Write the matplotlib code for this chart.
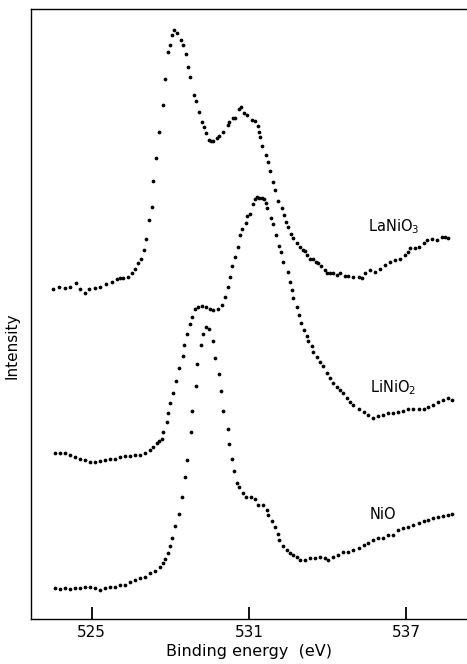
import matplotlib
matplotlib.use("Agg")
import matplotlib.pyplot as plt
import numpy as np

# O 1s spectra, binding energy (eV) vs intensity (arb. units, offset curves)
lanio3_e = [523.53, 523.73, 523.98, 524.17, 524.40, 524.55, 524.74, 524.90, 525.13, 525.32,
            525.55, 525.76, 525.95, 526.08, 526.21, 526.40, 526.53, 526.65, 526.78, 526.88,
            527.00, 527.07, 527.20, 527.29, 527.34, 527.45, 527.57, 527.71, 527.80, 527.90,
            527.98, 528.08, 528.15, 528.24, 528.40, 528.47, 528.59, 528.69, 528.76, 528.89,
            528.97, 529.08, 529.21, 529.29, 529.37, 529.47, 529.54, 529.64, 529.79, 529.87,
            530.02, 530.18, 530.24, 530.40, 530.48, 530.63, 530.70, 530.79, 530.92, 531.11,
            531.23, 531.34, 531.39, 531.42, 531.49, 531.64, 531.72, 531.81, 531.91, 532.01,
            532.12, 532.25, 532.34, 532.42, 532.50, 532.60, 532.69, 532.82, 532.95, 533.05,
            533.14, 533.23, 533.33, 533.46, 533.56, 533.65, 533.74, 533.90, 533.97, 534.10,
            534.22, 534.35, 534.48, 534.67, 534.79, 534.98, 535.18, 535.31, 535.43, 535.62,
            535.81, 536.00, 536.19, 536.39, 536.58, 536.77, 536.96, 537.05, 537.15, 537.34,
            537.47, 537.66, 537.79, 537.98, 538.17, 538.36, 538.48, 538.61]
lanio3_i = [54.1, 54.5, 54.3, 54.5, 55.1, 54.1, 53.5, 54.1, 54.3, 54.5,
            54.9, 55.3, 55.7, 55.9, 55.9, 56.1, 56.7, 57.3, 58.3, 59.0,
            60.5, 62.3, 65.4, 67.5, 71.8, 75.6, 79.8, 84.3, 88.5, 92.9,
            94.1, 95.7, 96.6, 96.1, 94.9, 94.1, 92.6, 90.5, 88.9, 85.9,
            84.9, 83.2, 81.5, 80.7, 79.6, 78.5, 78.4, 78.4, 78.8, 79.2,
            79.9, 81.0, 81.4, 82.1, 82.2, 83.6, 83.9, 83.0, 82.6, 81.8,
            81.7, 80.8, 79.9, 79.0, 77.5, 76.1, 75.0, 73.4, 71.7, 70.4,
            68.6, 67.3, 66.2, 65.1, 64.3, 63.1, 62.4, 61.6, 61.0, 60.5,
            60.3, 59.7, 59.1, 59.0, 58.6, 58.3, 57.8, 57.2, 56.7, 56.8,
            56.8, 56.4, 56.8, 56.2, 56.3, 56.1, 56.0, 55.9, 56.7, 57.2,
            56.9, 57.3, 58.0, 58.5, 58.9, 59.1, 59.7, 60.2, 60.8, 60.8,
            61.0, 61.6, 62.1, 62.3, 62.2, 62.6, 62.7, 62.4]

linio2_e = [523.60, 523.79, 523.98, 524.17, 524.36, 524.55, 524.74, 524.94, 525.13, 525.32,
            525.51, 525.70, 525.89, 526.08, 526.27, 526.46, 526.65, 526.84, 527.03, 527.23,
            527.35, 527.48, 527.58, 527.67, 527.73, 527.86, 527.92, 527.99, 528.11, 528.22,
            528.34, 528.47, 528.52, 528.63, 528.75, 528.82, 528.94, 529.07, 529.20, 529.36,
            529.52, 529.64, 529.83, 529.96, 530.09, 530.19, 530.28, 530.37, 530.47, 530.57,
            530.66, 530.75, 530.88, 530.94, 531.02, 531.15, 531.23, 531.32, 531.40, 531.49,
            531.58, 531.65, 531.70, 531.83, 531.93, 532.03, 532.16, 532.21, 532.31, 532.47,
            532.57, 532.63, 532.69, 532.82, 532.89, 532.99, 533.08, 533.21, 533.27, 533.40,
            533.46, 533.59, 533.71, 533.82, 533.97, 534.10, 534.22, 534.35, 534.48, 534.60,
            534.73, 534.86, 534.98, 535.18, 535.37, 535.56, 535.75, 535.94, 536.13, 536.32,
            536.51, 536.70, 536.89, 537.08, 537.27, 537.47, 537.66, 537.85, 538.04, 538.23,
            538.42, 538.61, 538.74]
linio2_i = [27.2, 27.2, 27.2, 26.9, 26.5, 26.3, 26.1, 25.8, 25.8, 25.9,
            26.0, 26.2, 26.3, 26.5, 26.7, 26.7, 26.9, 26.9, 27.2, 27.7,
            28.2, 28.8, 29.2, 29.5, 30.7, 32.3, 33.7, 35.4, 37.0, 39.0,
            41.1, 43.1, 44.9, 46.8, 48.4, 49.5, 50.9, 51.2, 51.3, 51.1,
            50.9, 50.7, 50.9, 51.5, 52.8, 54.5, 56.1, 57.8, 59.4, 61.0,
            63.0, 64.0, 64.9, 66.0, 66.4, 68.0, 68.8, 69.2, 69.0, 69.0,
            68.9, 68.2, 67.3, 65.8, 64.8, 62.9, 61.2, 60.1, 58.6, 56.9,
            55.3, 53.9, 52.6, 51.2, 49.8, 48.5, 47.4, 46.4, 45.5, 44.8,
            43.7, 43.0, 42.2, 41.4, 40.3, 39.5, 38.7, 38.1, 37.5, 37.0,
            36.2, 35.6, 35.1, 34.5, 34.0, 33.4, 32.9, 33.2, 33.4, 33.7,
            33.7, 34.0, 34.1, 34.5, 34.4, 34.4, 34.5, 34.8, 35.1, 35.6,
            35.9, 36.2, 35.9]

nio_e = [523.60, 523.79, 523.98, 524.17, 524.36, 524.55, 524.74, 524.94, 525.13, 525.32,
         525.51, 525.70, 525.89, 526.08, 526.27, 526.46, 526.65, 526.84, 527.03, 527.23,
         527.42, 527.61, 527.73, 527.80, 527.92, 527.99, 528.05, 528.18, 528.31, 528.44,
         528.56, 528.63, 528.77, 528.81, 528.97, 529.03, 529.16, 529.24, 529.36, 529.49,
         529.62, 529.71, 529.86, 529.94, 530.02, 530.18, 530.25, 530.34, 530.43, 530.56,
         530.60, 530.76, 530.89, 531.07, 531.23, 531.36, 531.55, 531.68, 531.74, 531.87,
         532.00, 532.12, 532.16, 532.31, 532.44, 532.57, 532.69, 532.82, 532.95, 533.14,
         533.33, 533.52, 533.71, 533.90, 534.03, 534.22, 534.41, 534.60, 534.79, 534.98,
         535.18, 535.37, 535.56, 535.75, 535.94, 536.13, 536.32, 536.51, 536.70, 536.89,
         537.08, 537.27, 537.47, 537.66, 537.85, 538.04, 538.23, 538.42, 538.61, 538.76]
nio_i = [5.0, 4.9, 5.0, 4.9, 5.1, 5.0, 5.3, 5.3, 5.0, 4.8,
         5.0, 5.2, 5.3, 5.6, 5.6, 6.0, 6.4, 6.7, 6.9, 7.5,
         7.8, 8.6, 9.1, 9.8, 10.8, 12.0, 13.2, 15.2, 17.2, 20.0,
         23.2, 26.1, 30.6, 34.1, 38.2, 41.8, 44.9, 46.7, 47.9, 47.5,
         45.5, 42.8, 40.2, 37.4, 34.1, 31.2, 28.7, 26.2, 24.3, 22.3,
         21.6, 20.7, 20.0, 20.0, 19.6, 18.7, 18.7, 17.9, 17.0, 16.0,
         15.1, 14.0, 13.0, 11.9, 11.3, 10.8, 10.5, 10.2, 9.6, 9.7,
         10.0, 10.0, 10.2, 10.0, 9.7, 10.2, 10.5, 11.0, 11.0, 11.3,
         11.6, 12.1, 12.4, 13.0, 13.2, 13.2, 13.8, 13.8, 14.6, 14.9,
         15.1, 15.4, 15.7, 16.0, 16.2, 16.5, 16.7, 16.9, 17.0, 17.2]

labels = ["LaNiO$_3$", "LiNiO$_2$", "NiO"]
label_pos = [(535.55, 64.4), (535.62, 37.9), (535.62, 17.2)]
xticks = [525, 531, 537]

plt.rcParams["font.family"] = "DejaVu Sans"

fig = plt.figure(figsize=(4.67, 6.64), dpi=100)
ax = fig.add_axes([0.0664, 0.0678, 0.9336, 0.9186])

for e, i in [(lanio3_e, lanio3_i), (linio2_e, linio2_i), (nio_e, nio_i)]:
    ax.plot(e, i, "o", ms=2.7, color="black", mec="none")

for txt, (x, y) in zip(labels, label_pos):
    ax.text(x, y, txt, fontsize=10.5, ha="left", va="center")

ax.set_xlim(522.68, 539.32)
ax.set_ylim(0, 100)
ax.set_xticks(xticks)
ax.set_yticks([])
ax.tick_params(axis="x", direction="in", length=8.5, width=1.3, labelsize=11, pad=4)
ax.spines["right"].set_visible(False)
for s in ["left", "bottom", "top"]:
    ax.spines[s].set_linewidth(1.0)

ax.set_xlabel("Binding energy  (eV)", fontsize=11.5, labelpad=3)
ax.set_ylabel("Intensity", fontsize=11)
ax.yaxis.set_label_coords(-0.026, 0.448)

fig.savefig("out.png", dpi=100)
